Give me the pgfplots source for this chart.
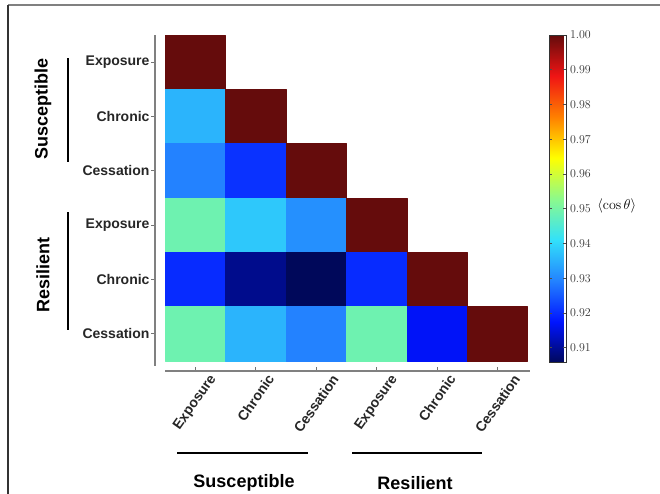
\documentclass[border=0pt]{standalone}
\usepackage{fontspec}
\newfontfamily\lsans{Liberation Sans}
\usepackage{pgfplots}
\usepackage{pgfplotstable}
\pgfplotsset{compat=1.18}
\pgfplotsset{
 colormap={refjet}{rgb255(0cm)=(0,8,90); rgb255(1cm)=(0,20,255); rgb255(2cm)=(35,130,255); rgb255(3cm)=(50,225,250); rgb255(4cm)=(140,250,140); rgb255(5cm)=(255,255,0); rgb255(6cm)=(255,128,0); rgb255(7cm)=(240,20,20); rgb255(8cm)=(100,12,12)}
}
\newcommand{\lab}{\lsans\bfseries\fontsize{14bp}{16bp}\selectfont}
\newcommand{\grp}{\lsans\bfseries\fontsize{18bp}{20bp}\selectfont}

% lower-triangular matrix of <cos theta>; each cell = 4 corners, c = value
\pgfplotstableread{
x y c
0.5 5.5 1.000
1.5 5.5 1.000
1.5 6.5 1.000
0.5 6.5 1.000
0.5 4.5 0.9355
1.5 4.5 0.9355
1.5 5.5 0.9355
0.5 5.5 0.9355
1.5 4.5 1.000
2.5 4.5 1.000
2.5 5.5 1.000
1.5 5.5 1.000
0.5 3.5 0.9293
1.5 3.5 0.9293
1.5 4.5 0.9293
0.5 4.5 0.9293
1.5 3.5 0.9207
2.5 3.5 0.9207
2.5 4.5 0.9207
1.5 4.5 0.9207
2.5 3.5 1.000
3.5 3.5 1.000
3.5 4.5 1.000
2.5 4.5 1.000
0.5 2.5 0.949
1.5 2.5 0.949
1.5 3.5 0.949
0.5 3.5 0.949
1.5 2.5 0.938
2.5 2.5 0.938
2.5 3.5 0.938
1.5 3.5 0.938
2.5 2.5 0.931
3.5 2.5 0.931
3.5 3.5 0.931
2.5 3.5 0.931
3.5 2.5 1.000
4.5 2.5 1.000
4.5 3.5 1.000
3.5 3.5 1.000
0.5 1.5 0.920
1.5 1.5 0.920
1.5 2.5 0.920
0.5 2.5 0.920
1.5 1.5 0.9093
2.5 1.5 0.9093
2.5 2.5 0.9093
1.5 2.5 0.9093
2.5 1.5 0.9057
3.5 1.5 0.9057
3.5 2.5 0.9057
2.5 2.5 0.9057
3.5 1.5 0.920
4.5 1.5 0.920
4.5 2.5 0.920
3.5 2.5 0.920
4.5 1.5 1.000
5.5 1.5 1.000
5.5 2.5 1.000
4.5 2.5 1.000
0.5 0.5 0.949
1.5 0.5 0.949
1.5 1.5 0.949
0.5 1.5 0.949
1.5 0.5 0.9355
2.5 0.5 0.9355
2.5 1.5 0.9355
1.5 1.5 0.9355
2.5 0.5 0.9293
3.5 0.5 0.9293
3.5 1.5 0.9293
2.5 1.5 0.9293
3.5 0.5 0.949
4.5 0.5 0.949
4.5 1.5 0.949
3.5 1.5 0.949
4.5 0.5 0.917
5.5 0.5 0.917
5.5 1.5 0.917
4.5 1.5 0.917
5.5 0.5 1.000
6.5 0.5 1.000
6.5 1.5 1.000
5.5 1.5 1.000
}\cells

\begin{document}
\begin{tikzpicture}
\useasboundingbox (0bp,0bp) rectangle (660bp,-494bp);
\draw[line width=1.8bp, color=black!50] (8bp,-5bp) -- (660bp,-5bp);
\draw[line width=1.8bp, color=black!80] (8bp,-5bp) -- (8bp,-494bp);
\begin{axis}[
  at={(155bp,-371bp)}, anchor=south west,
  x=60.45bp, y=54.33bp,
  xmin=0.335, xmax=6.53, ymin=0.316, ymax=6.5,
  axis line style={draw=none},
  xtick={1,2,3,4,5,6}, ytick={1,2,3,4,5,6},
  xticklabels={\rotatebox{55}{Exposure},\rotatebox{55}{Chronic},\rotatebox{55}{Cessation},\rotatebox{55}{Exposure},\rotatebox{55}{Chronic},\rotatebox{55}{Cessation}},
  yticklabels={Cessation,Chronic,Exposure,Cessation,Chronic,Exposure},
  xtick pos=left, ytick pos=left,
  tick align=inside,
  major tick length=4bp,
  tick style={color=black!55, line width=1bp},
  every major y tick/.append style={xshift=-4bp},
  ticklabel style={font=\lab, text=black!85},
  yticklabel style={xshift=-2bp},
  xticklabel style={anchor=north, inner sep=2bp},
  point meta min=0.9057, point meta max=1.0,
  colormap name=refjet,
  colorbar,
  colorbar style={
    at={(parent axis.north east)}, anchor=north west, xshift=11.5bp,
    width=17bp, height=327.7bp,
    ytick={0.91,0.92,0.93,0.94,0.95,0.96,0.97,0.98,0.99,1.00},
    yticklabel style={/pgf/number format/.cd, fixed, fixed zerofill, precision=2, /tikz/.cd, font=\fontsize{11.5bp}{13bp}\selectfont, text=black!80},
    major tick length=3bp,
    tick style={color=black!70, line width=0.6bp},
    axis line style={color=black!80, line width=0.6bp},
    ylabel={$\langle\cos\theta\rangle$},
    every axis y label/.style={at={(ticklabel cs:0.478)}, anchor=west, rotate=0, inner sep=3bp, font=\fontsize{14bp}{16bp}\selectfont},
  },
]
\addplot[patch, patch type=rectangle, shader=flat, point meta=explicit] table[x=x, y=y, meta=c] {\cells};
\end{axis}
\draw[line width=2bp, color=black!50] (155bp,-35bp) -- (155bp,-366bp);
\draw[line width=2bp, color=black!50] (165bp,-371bp) -- (530bp,-371bp);
\draw[line width=2.5bp] (68bp,-58bp) -- (68bp,-162bp);
\draw[line width=2.5bp] (68bp,-212bp) -- (68bp,-330bp);
\draw[line width=2.5bp] (177bp,-453bp) -- (308bp,-453bp);
\draw[line width=2.5bp] (352bp,-453bp) -- (482bp,-453bp);
\node[rotate=90, font=\grp] at (43bp,-109bp) {Susceptible};
\node[rotate=90, font=\grp] at (43bp,-275bp) {Resilient};
\node[font=\grp] at (244bp,-483bp) {Susceptible};
\node[font=\grp] at (415bp,-483bp) {Resilient};
\end{tikzpicture}
\end{document}
